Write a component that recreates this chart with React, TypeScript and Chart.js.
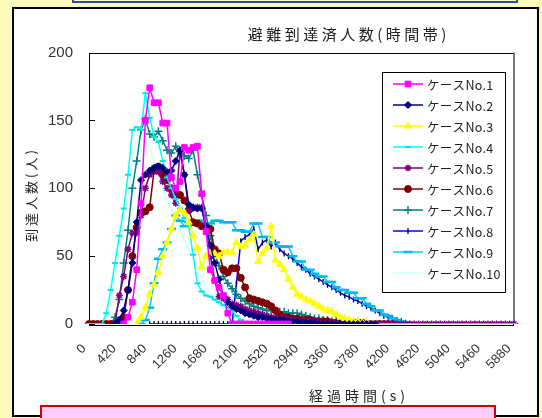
import React, { useEffect, useRef } from 'react';
import { Chart, registerables } from 'chart.js';
import { drawPoint } from 'chart.js/helpers';

Chart.register(...registerables);

const N = null;

const timeLabels = [
  0, 60, 120, 180, 240, 300, 360, 420, 480, 540,
  600, 660, 720, 780, 840, 900, 960, 1020, 1080, 1140,
  1200, 1260, 1320, 1380, 1440, 1500, 1560, 1620, 1680, 1740,
  1800, 1860, 1920, 1980, 2040, 2100, 2160, 2220, 2280, 2340,
  2400, 2460, 2520, 2580, 2640, 2700, 2760, 2820, 2880, 2940,
  3000, 3060, 3120, 3180, 3240, 3300, 3360, 3420, 3480, 3540,
  3600, 3660, 3720, 3780, 3840, 3900, 3960, 4020, 4080, 4140,
  4200, 4260, 4320, 4380, 4440, 4500, 4560, 4620, 4680, 4740,
  4800, 4860, 4920, 4980, 5040, 5100, 5160, 5220, 5280, 5340,
  5400, 5460, 5520, 5580, 5640, 5700, 5760, 5820, 5880,
];

const tickLabels = ['0', '420', '840', '1260', '1680', '2100', '2520', '2940', '3360', '3780', '4200', '4620', '5040', '5460', '5880'];

const yTicks = [0, 50, 100, 150, 200];

const seriesNames = ['ケースNo.1', 'ケースNo.2', 'ケースNo.3', 'ケースNo.4', 'ケースNo.5', 'ケースNo.6', 'ケースNo.7', 'ケースNo.8', 'ケースNo.9', 'ケースNo.10'];

const case1 = [
  N, N, N, N, N, N, N, N, 0, 5,
  16, 40, 89, 150, 174, 163, 163, 148, 148, 108,
  100, 105, 130, 128, 130, 131, 96, 68, 40, 32,
  27, 21, 8, 0, 0, 0, 0, 0, 0, 0,
  0, 0, 0, 0, 0, 0, 0, N, N, N,
  N, N, N, N, N, N, N, N, N, N,
  N, N, N, N, N, N, N, N, N, N,
  N, N, N, N, N, N, N, N, N, N,
  N, N, N, N, N, N, N, N, N, N,
  N, N, N, N, N, N, N, N, N,
];

const case2 = [
  N, N, N, N, N, N, 0, 3, 10, 25,
  45, 75, 106, 110, 113, 115, 116, 115, 112, 113,
  120, 128, 110, 88, 86, 85, 85, 72, 58, 45,
  33, 20, 16, 13, 11, 10, 8, 7, 6, 5,
  5, 4, 4, 3, 3, 3, 2, 2, 2, 1,
  1, 1, 1, 0, 0, 0, 0, 0, 0, 0,
  0, 0, 0, 0, 0, 0, 0, N, N, N,
  N, N, N, N, N, N, N, N, N, N,
  N, N, N, N, N, N, N, N, N, N,
  N, N, N, N, N, N, N, N, N,
];

const case3 = [
  N, N, N, N, N, N, N, N, N, N,
  N, 0, 5, 12, 22, 29, 38, 50, 60, 70,
  80, 84, 82, 75, 65, 56, 42, 50, 53, 52,
  50, 53, 53, 53, 60, 57, 58, 62, 66, 46,
  52, 56, 72, 47, 44, 40, 33, 27, 22, 20,
  18, 17, 15, 13, 11, 10, 9, 7, 5, 4,
  3, 2, 2, 1, 1, 0, 0, N, N, N,
  N, N, N, N, N, N, N, N, N, N,
  N, N, N, N, N, N, N, N, N, N,
  N, N, N, N, N, N, N, N, N,
];

const case4 = [
  0, 0, 0, 0, 8, 25, 45, 65, 85, 110,
  143, 145, 143, 170, 152, 138, 134, 120, 108, 100,
  92, 85, 78, 72, 51, 30, 24, 21, 20, 18,
  16, 14, 12, 10, 6, 3, 1, 0, 0, 0,
  0, 0, 0, 0, 0, 0, 0, 0, 0, 0,
  0, 0, 0, 0, 0, 0, 0, 0, 0, 0,
  0, 0, 0, 0, 0, 0, 0, 0, 0, 0,
  0, 0, 0, 0, 0, 0, 0, 0, 0, 0,
  0, 0, 0, 0, 0, 0, 0, 0, 0, 0,
  0, 0, 0, 0, 0, 0, 0, 0, 0,
];

const case5 = [
  N, N, N, N, N, N, 0, 21, 35, 55,
  67, 67, 80, 100, 110, 115, 112, 105, 100, 95,
  89, 127, 110, 84, 85, 86, 86, 70, 50, 32,
  20, 19, 18, 15, 14, 13, 11, 10, 9, 8,
  7, 6, 5, 5, 4, 4, 3, 3, 3, 2,
  2, 2, 2, 1, 1, 1, 1, 1, 0, 0,
  0, 0, 0, 0, 0, 0, 0, 0, 0, 0,
  0, 0, 0, 0, 0, 0, 0, 0, 0, 0,
  0, 0, 0, 0, 0, 0, 0, 0, 0, 0,
  0, 0, 0, 0, 0, 0, 0, 0, 0,
];

const case6 = [
  0, 0, 0, 0, 0, 0, 0, 0, 5, 25,
  50, 71, 82, 83, 86, 113, 116, 110, 106, 100,
  97, 95, 91, 84, 75, 74, 72, 71, 70, 55,
  52, 40, 38, 41, 41, 34, 27, 19, 18, 17,
  16, 15, 13, 10, 7, 5, 5, 4, 4, 3,
  3, 3, 2, 2, 2, 2, 1, 1, 1, 1,
  1, 1, 1, 1, 0, 0, 0, 0, 0, 0,
  0, N, N, N, N, N, N, N, N, N,
  N, N, N, N, N, N, N, N, N, N,
  N, N, N, N, N, N, N, N, N,
];

const case7 = [
  N, N, N, N, N, 0, 5, 18, 45, 69,
  100, 120, 143, 151, 140, 138, 142, 135, 128, 126,
  131, 127, 124, 122, 128, 110, 95, 80, 65, 52,
  43, 35, 30, 26, 22, 19, 17, 15, 13, 12,
  11, 10, 10, 9, 9, 9, 8, 8, 8, 7,
  6, 5, 4, 4, 3, 3, 2, 2, 2, 1,
  1, 0, 0, 0, 0, 0, 0, 0, 0, 0,
  0, N, N, N, N, N, N, N, N, N,
  N, N, N, N, N, N, N, N, N, N,
  N, N, N, N, N, N, N, N, N,
];

const case8 = [
  N, N, N, N, N, N, N, N, N, N,
  N, N, N, N, 0, 0, 0, 0, 0, 0,
  0, 0, 0, 0, 0, 0, 0, 0, 0, 0,
  0, 0, 0, 0, 30, 61, 64, 66, 70, 55,
  60, 62, 57, 60, 55, 52, 50, 48, 45, 42,
  40, 37, 35, 33, 31, 29, 27, 25, 23, 21,
  20, 18, 17, 15, 13, 12, 10, 8, 6, 5,
  4, 3, 2, 1, 0, N, N, N, N, N,
  N, N, N, N, N, N, N, N, N, N,
  N, N, N, N, N, N, N, N, N,
];

const case9 = [
  N, N, N, N, N, N, N, N, N, N,
  N, N, 0, 3, 12, 30, 48, 55, 60, 70,
  80, 76, 72, 75, 75, 76, 76, 74, 74, 76,
  76, 75, 75, 75, 69, 69, 68, 68, 74, 74,
  64, 64, 60, 60, 57, 57, 57, 50, 46, 46,
  40, 40, 37, 35, 35, 31, 31, 27, 25, 25,
  23, 23, 19, 19, 15, 13, 10, 10, 7, 6,
  4, 3, 2, 1, 0, 0, 0, 0, 0, 0,
  0, 0, 0, 0, 0, 0, 0, 0, 0, 0,
  0, 0, 0, 0, 0, 0, 0, 0, 0,
];

const case10 = [
  0, 0, 0, 0, 5, 18, 35, 55, 75, 95,
  120, 135, 140, 138, 130, 120, 110, 100, 92, 85,
  78, 70, 62, 55, 48, 40, 33, 27, 22, 18,
  14, 11, 8, 6, 4, 3, 2, 1, 0, 0,
  0, 0, 0, 0, 0, 0, 0, 0, 0, 0,
  0, 0, 0, 0, 0, 0, 0, 0, 0, 0,
  0, 0, 0, 0, 0, 0, 0, 0, 0, 0,
  0, 0, 0, 0, 0, 0, 0, 0, 0, 0,
  0, 0, 0, 0, 0, 0, 0, 0, 0, 0,
  0, 0, 0, 0, 0, 0, 0, 0, 0,
];

const seriesValues = [case1, case2, case3, case4, case5, case6, case7, case8, case9, case10];

type Style = {
  color: string; pointStyle: any; radius: number; fill: string; stroke: string; pbw: number; rot?: number; order: number;
};

const styles: Style[] = [
  { color: '#FF00FF', pointStyle: 'rect', radius: 4, fill: '#FF00FF', stroke: '#FF00FF', pbw: 1, order: 0 },
  { color: '#000080', pointStyle: 'rectRot', radius: 3.5, fill: '#000080', stroke: '#000080', pbw: 1, order: 1 },
  { color: '#FFFF00', pointStyle: 'triangle', radius: 4, fill: '#FFFF00', stroke: '#FFFF00', pbw: 1, order: 2 },
  { color: '#00FFFF', pointStyle: 'line', radius: 3, fill: '#00FFFF', stroke: '#00E5E5', pbw: 2, order: 3 },
  { color: '#800080', pointStyle: 'star', radius: 3.5, fill: '#800080', stroke: '#800080', pbw: 1.5, order: 4 },
  { color: '#800000', pointStyle: 'circle', radius: 3.5, fill: '#800000', stroke: '#800000', pbw: 1, order: 5 },
  { color: '#008080', pointStyle: 'cross', radius: 4, fill: '#008080', stroke: '#008080', pbw: 1.5, order: 6 },
  { color: '#0000FF', pointStyle: 'line', radius: 3, fill: '#000040', stroke: '#000040', pbw: 1.3, rot: 90, order: 8 },
  { color: '#00CCFF', pointStyle: 'line', radius: 4.5, fill: '#00CCFF', stroke: '#00B8F0', pbw: 2.5, order: 7 },
  { color: '#CCFFFF', pointStyle: 'circle', radius: 0, fill: '#CCFFFF', stroke: '#CCFFFF', pbw: 0, order: 9 },
];

const FONT_JP = '"Noto Sans CJK JP", "Noto Sans", sans-serif';
const FONT_NUM = '"Liberation Sans", Arial, sans-serif';

function spacedText(ctx: CanvasRenderingContext2D, text: string, cx: number, cy: number, font: string, spacing: number, angle: number) {
  ctx.save();
  ctx.font = font;
  (ctx as any).letterSpacing = spacing + 'px';
  ctx.fillStyle = '#222';
  ctx.textBaseline = 'middle';
  ctx.textAlign = 'left';
  const w = ctx.measureText(text).width;
  ctx.translate(cx, cy);
  ctx.rotate(angle);
  ctx.fillText(text, -w / 2 + spacing / 2, 0);
  ctx.restore();
}

const decorPlugin = {
  id: 'decor',
  beforeDatasetsDraw(chart: any) {
    const { ctx, chartArea: a, scales } = chart;
    ctx.save();
    ctx.strokeStyle = '#000';
    ctx.lineWidth = 1;
    ctx.strokeRect(Math.round(a.left) + 0.5, Math.round(a.top) + 0.5, Math.round(a.right - a.left) - 1, Math.round(a.bottom - a.top));
    ctx.strokeStyle = '#777';
    ctx.lineWidth = 2;
    ctx.beginPath();
    ctx.moveTo(Math.round(a.right), a.top);
    ctx.lineTo(Math.round(a.right), a.bottom);
    ctx.stroke();
    ctx.strokeStyle = '#000';
    ctx.lineWidth = 1;
    const ys = scales.y;
    yTicks.forEach((v) => {
      const y = Math.round(ys.getPixelForValue(v)) + 0.5;
      ctx.beginPath();
      ctx.moveTo(a.left, y);
      ctx.lineTo(a.left + 6, y);
      ctx.stroke();
    });
    ctx.restore();
  },
  afterDraw(chart: any) {
    const { ctx } = chart;
    spacedText(ctx, '避難到達済人数(時間帯)', 347, 34, `15px ${FONT_JP}`, 3.5, 0);
    spacedText(ctx, '経過時間(s)', 357, 396, `14px ${FONT_JP}`, 4, 0);
    spacedText(ctx, '到達人数(人)', 31, 196, `13px ${FONT_JP}`, 3, -Math.PI / 2);

    // legend
    const lx = 382, ly = 72, lw = 123, lh = 220;
    ctx.save();
    ctx.fillStyle = '#fff';
    ctx.fillRect(lx, ly, lw, lh);
    ctx.strokeStyle = '#000';
    ctx.lineWidth = 1;
    ctx.strokeRect(lx + 0.5, ly + 0.5, lw, lh);
    seriesNames.forEach((name, k) => {
      const st = styles[k];
      const y = 84 + k * 21;
      ctx.strokeStyle = st.color;
      ctx.lineWidth = 1.5;
      ctx.beginPath();
      ctx.moveTo(393, y);
      ctx.lineTo(423, y);
      ctx.stroke();
      if (st.radius > 0) {
        ctx.fillStyle = st.fill;
        ctx.strokeStyle = st.stroke;
        ctx.lineWidth = st.pbw;
        drawPoint(ctx, { pointStyle: st.pointStyle, radius: st.radius, rotation: st.rot || 0, borderWidth: st.pbw } as any, 408, y);
      }
      ctx.fillStyle = '#222';
      ctx.font = `12.5px ${FONT_JP}`;
      (ctx as any).letterSpacing = '0.3px';
      ctx.textAlign = 'left';
      ctx.textBaseline = 'middle';
      ctx.fillText(name, 427, y + 1);
    });
    ctx.restore();
  },
};

export default function App() {
  const ref = useRef<HTMLCanvasElement>(null);
  useEffect(() => {
    const datasets = seriesValues.map((vals, k) => {
      const st = styles[k];
      return {
        label: seriesNames[k],
        data: vals,
        order: st.order,
        borderColor: st.color,
        backgroundColor: st.color,
        borderWidth: 1.5,
        pointStyle: st.pointStyle,
        pointRadius: st.radius,
        pointHoverRadius: st.radius,
        pointBackgroundColor: st.fill,
        pointBorderColor: st.stroke,
        pointBorderWidth: st.pbw,
        pointRotation: st.rot || 0,
        spanGaps: false,
        tension: 0,
        fill: false,
      };
    });
    const chart = new Chart(ref.current as HTMLCanvasElement, {
      type: 'line',
      data: { labels: timeLabels.map(String), datasets },
      options: {
        responsive: false,
        animation: false,
        devicePixelRatio: 1,
        layout: { padding: { left: 0, top: 52.5, right: 22, bottom: 0 } },
        plugins: { legend: { display: false }, title: { display: false }, tooltip: { enabled: false } },
        scales: {
          x: {
            type: 'category',
            offset: false,
            grid: { display: false, drawTicks: false },
            border: { display: false },
            ticks: {
              autoSkip: false,
              maxRotation: 45,
              minRotation: 45,
              padding: 17,
              labelOffset: -5,
              color: '#333',
              font: { size: 13, family: FONT_NUM },
              callback: (_v: any, i: number) => {
                const s = String(timeLabels[i]);
                return tickLabels.includes(s) ? s : '';
              },
            },
            afterFit: (s: any) => { s.height = 94; },
          },
          y: {
            min: 0,
            max: 200,
            grid: { display: false, drawTicks: false },
            border: { display: false },
            ticks: { stepSize: 50, padding: 16, color: '#333', font: { size: 15, family: FONT_NUM } },
            afterFit: (s: any) => { s.width = 89; },
          },
        },
      } as any,
      plugins: [decorPlugin],
    });
    return () => chart.destroy();
  }, []);

  return (
    <div style={{ position: 'fixed', left: 0, top: 0, width: 542, height: 418, background: '#FFFBBF', overflow: 'hidden' }}>
      <div style={{ position: 'absolute', left: 72, top: -20, width: 442, height: 19, border: '2px solid #2E4C9E', background: '#FFFFD2' }} />
      <div style={{ position: 'absolute', left: 12, top: 7, width: 523, height: 406, border: '2px solid #000', background: '#fff' }} />
      <canvas ref={ref} width={542} height={418} style={{ position: 'absolute', left: 0, top: 0, width: 542, height: 418 }} />
      <div style={{ position: 'absolute', left: 40, top: 405, width: 452, height: 30, border: '2px solid #D40000', background: '#FFCCFF' }} />
    </div>
  );
}
